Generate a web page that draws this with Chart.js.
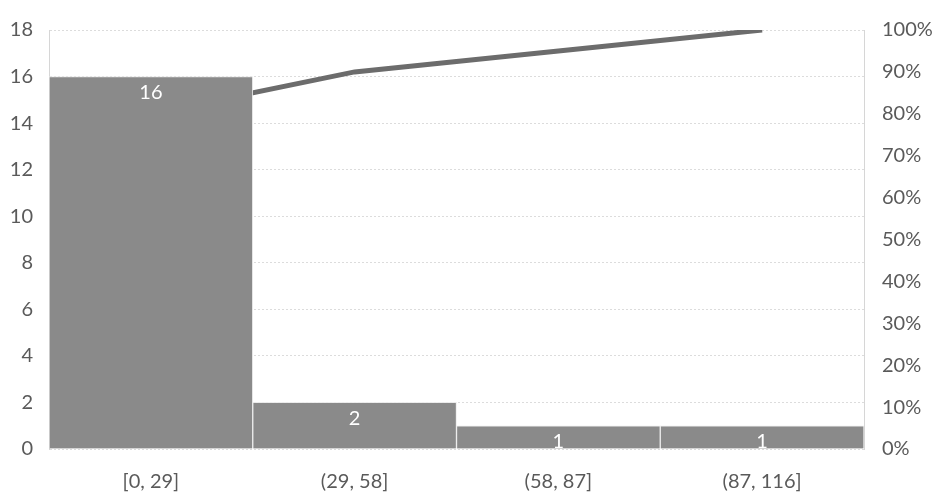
<!DOCTYPE html>
<html>
<head>
<meta charset="utf-8">
<script src="https://cdn.jsdelivr.net/npm/chart.js@4.4.0/dist/chart.umd.min.js"></script>
<style>
  html, body { margin: 0; padding: 0; background: #fff; }
  #wrap { width: 934px; height: 496px; }
</style>
</head>
<body>
<div id="wrap"><canvas id="pareto" width="934" height="496"></canvas></div>
<script>
// bins del histograma y frecuencias
let bins = ['[0, 29]', '(29, 58]', '(58, 87]', '(87, 116]'];
let frecuencias = [16, 2, 1, 1];
let acumulado = [0.80, 0.90, 0.95, 1.00];
let ticksIzq = [0, 2, 4, 6, 8, 10, 12, 14, 16, 18];
let ticksDer = [0, 0.1, 0.2, 0.3, 0.4, 0.5, 0.6, 0.7, 0.8, 0.9, 1.0];

let fuente = 'Lato, "Open Sans", sans-serif';
let gris = '#5a5a5a';

// etiquetas blancas dentro de las barras
let etiquetasBarras = {
    id: 'etiquetasBarras',
    afterDatasetsDraw(chart) {
        let ctx = chart.ctx;
        let meta = chart.getDatasetMeta(0);
        ctx.save();
        ctx.fillStyle = '#ffffff';
        ctx.font = '20px ' + fuente;
        ctx.textAlign = 'center';
        ctx.textBaseline = 'middle';
        meta.data.forEach((bar, i) => {
            ctx.fillText(String(frecuencias[i]), bar.x, bar.y + 16);
        });
        ctx.restore();
    }
};

let ctx = document.getElementById('pareto');
new Chart(ctx, {
    data: {
        labels: bins,
        datasets: [{
            type: 'bar',
            label: 'Frecuencia',
            data: frecuencias,
            backgroundColor: '#8a8a8a',
            borderColor: 'rgba(235,235,235,0.9)',
            borderWidth: 1,
            barPercentage: 1,
            categoryPercentage: 1,
            yAxisID: 'y',
            order: 1
        }, {
            type: 'line',
            label: '% acumulado',
            data: acumulado,
            borderColor: '#6c6c6c',
            borderWidth: 5,
            pointRadius: 0,
            tension: 0,
            yAxisID: 'y2',
            order: 2
        }]
    },
    options: {
        responsive: false,
        animation: false,
        layout: { padding: { top: 23, left: 0, right: 0, bottom: 0 } },
        plugins: {
            legend: { display: false },
            tooltip: { enabled: false }
        },
        scales: {
            x: {
                grid: { display: false, drawTicks: false },
                border: { display: false },
                ticks: { color: gris, font: { family: fuente, size: 20 }, padding: 21 },
                afterFit: s => { s.height = 47; }
            },
            y: {
                position: 'left',
                min: 0,
                max: 18,
                afterBuildTicks: s => { s.ticks = ticksIzq.map(v => ({ value: v })); },
                grid: { color: '#dcdcdc', drawTicks: false },
                border: { display: true, color: '#d6d6d6', dash: [2, 2] },
                ticks: { color: gris, font: { family: fuente, size: 20 }, padding: 16 },
                afterFit: s => { s.width = 49; }
            },
            y2: {
                position: 'right',
                min: 0,
                max: 1,
                afterBuildTicks: s => { s.ticks = ticksDer.map(v => ({ value: v })); },
                grid: { display: false, drawTicks: false },
                border: { display: true, color: '#d6d6d6', dash: [2, 2] },
                ticks: {
                    color: gris,
                    font: { family: fuente, size: 20 },
                    padding: 18,
                    callback: v => Math.round(v * 100) + '%'
                },
                afterFit: s => { s.width = 70; }
            }
        }
    },
    plugins: [etiquetasBarras]
});
</script>
</body>
</html>
